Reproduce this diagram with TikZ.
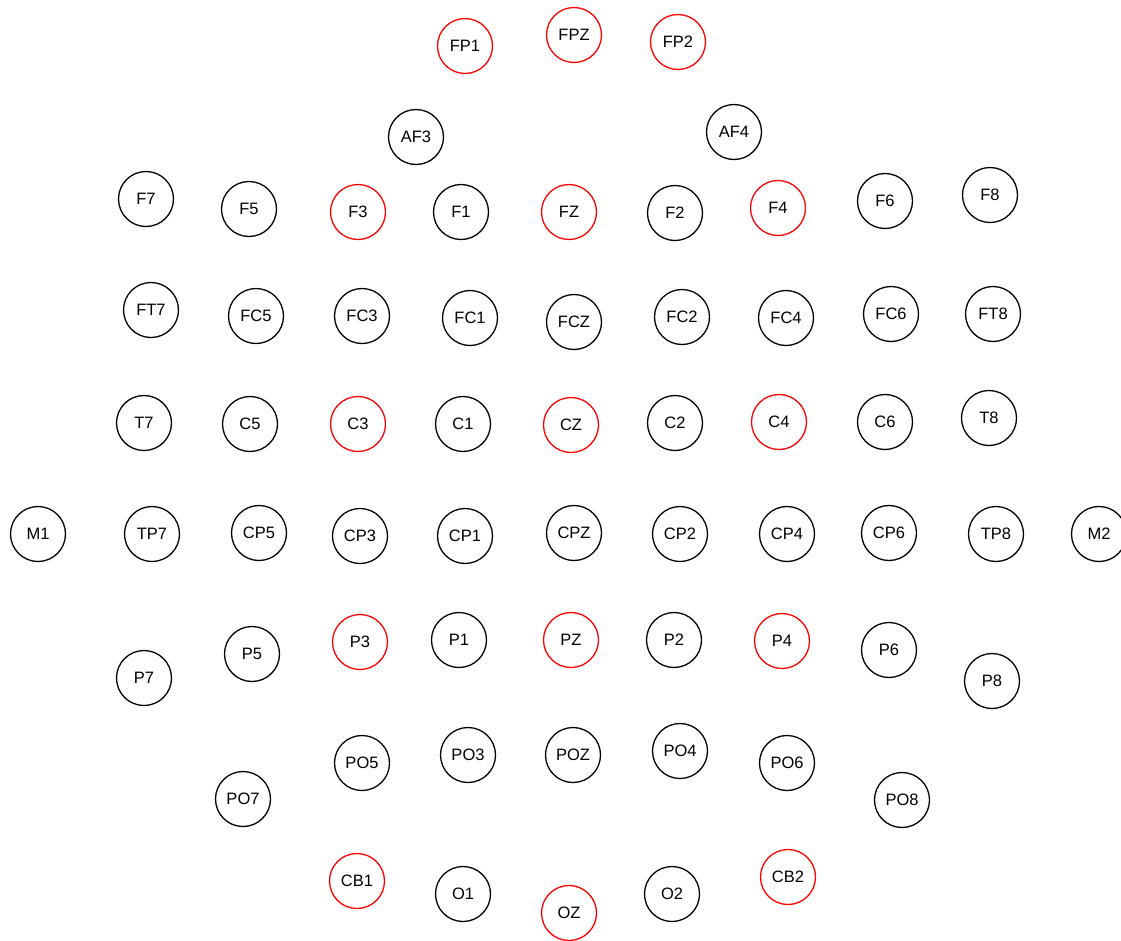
\documentclass[tikz,border=0pt]{standalone}
\usepackage{fontspec}
\setmainfont{Liberation Sans}
\definecolor{elred}{RGB}{255,0,0}
\tikzset{
  electrode/.style={circle, draw=black, line width=1.3pt, minimum size=55pt, inner sep=0pt, font=\fontsize{16.5}{17}\selectfont, text=black},
  refel/.style={electrode, draw=elred}
}
\begin{document}
\begin{tikzpicture}[x=1pt,y=-1pt]
\useasboundingbox (0,0) rectangle (1121,940);
% red electrodes
\foreach \n/\x/\y in {FP1/465/46, FPZ/574/35, FP2/678/42,
  F3/358/212, FZ/569/212, F4/778/208,
  C3/358/424, CZ/571/425, C4/779/422,
  P3/360/642, PZ/571/640, P4/782/641,
  CB1/357/881, OZ/569/913, CB2/788/877}
  \node[refel] (\n) at (\x,\y) {\n};
% black electrodes
\foreach \n/\x/\y in {AF3/416/137, AF4/734/132,
  F7/146/199, F5/249/209, F1/461/212, F2/675/213, F6/885/201, F8/990/195,
  FT7/151/310, FC5/256/316, FC3/362/316, FC1/470/318, FCZ/574/322, FC2/682/317, FC4/786/318, FC6/891/314, FT8/993/314,
  T7/144/423, C5/250/424, C1/463/424, C2/675/423, C6/885/422, T8/989/418,
  M1/38/534, TP7/152/534, CP5/259/533, CP3/360/536, CP1/465/536, CPZ/574/533, CP2/680/534, CP4/787/534, CP6/889/533, TP8/996/534, M2/1099/534,
  P7/144/678, P5/252/654, P1/459/640, P2/674/640, P6/889/650, P8/992/681,
  PO7/243/799, PO5/362/763, PO3/468/755, POZ/573/755, PO4/680/751, PO6/787/763, PO8/902/800,
  O1/463/894, O2/672/894}
  \node[electrode] (\n) at (\x,\y) {\n};
\end{tikzpicture}
\end{document}
